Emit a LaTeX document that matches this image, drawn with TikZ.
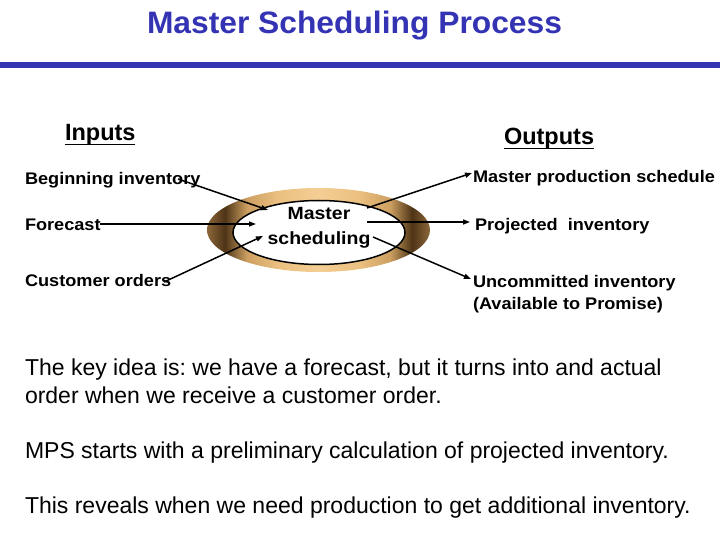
\documentclass[tikz,border=0pt]{standalone}
\usepackage{fontspec}
\setmainfont{Liberation Sans}
\newfontfamily\tfont[FakeStretch=1.025]{Liberation Sans}
\newfontfamily\lfont[FakeStretch=1.08]{Liberation Sans}
\newfontfamily\mfont[FakeStretch=1.1]{Liberation Sans}
\usetikzlibrary{arrows.meta}
\frenchspacing
\definecolor{titleblue}{RGB}{51,51,180}
\definecolor{rbA}{RGB}{140,104,58}
\definecolor{rbB}{RGB}{78,52,22}
\definecolor{rbC}{RGB}{205,160,98}
\definecolor{rbD}{RGB}{235,192,128}
\definecolor{rbE}{RGB}{244,206,148}
\pgfdeclarehorizontalshading{ringshade}{100bp}{color(0bp)=(rbA); color(25bp)=(rbA); color(29bp)=(rbB); color(34bp)=(rbC); color(41bp)=(rbD); color(50bp)=(rbE); color(59bp)=(rbD); color(66bp)=(rbC); color(71bp)=(rbB); color(75bp)=(rbA); color(100bp)=(rbA)}
\tikzset{
  txt/.style={anchor=base west, inner sep=0pt, outer sep=0pt},
  lab/.style={txt, font=\lfont\bfseries\fontsize{16.8}{20}\selectfont},
  head/.style={txt, font=\bfseries\fontsize{23.5}{28}\selectfont},
  body/.style={txt, font=\frenchspacing\fontsize{23}{28}\selectfont},
  arr/.style={line width=1.5pt, -{Triangle[length=7pt,width=5pt]}},
  uline/.style={line width=1.6pt}
}
\begin{document}
\begin{tikzpicture}[x=1pt,y=-1pt]
\useasboundingbox (0,0) rectangle (720,540);
% title
\node[txt, font=\tfont\bfseries\fontsize{31}{37}\selectfont, text=titleblue] (title) at (147,34) {Master Scheduling Process};
\fill[titleblue] (0,62) rectangle (720,68);
% headings
\node[head] (inp) at (65,141) {Inputs};
\draw[uline] ([yshift=-3.5pt]inp.base west) -- ([yshift=-3.5pt]inp.base east);
\node[head] (outp) at (504,145) {Outputs};
\draw[uline] ([yshift=-3.5pt]outp.base west) -- ([yshift=-3.5pt]outp.base east);
% ring
\shade[shading=ringshade] (318.5,230) ellipse [x radius=111.5, y radius=42];
\filldraw[fill=white, draw=black, line width=1.5pt] (319,232.5) ellipse [x radius=86, y radius=32];
\node[txt, anchor=base, font=\mfont\bfseries\fontsize{17.7}{21}\selectfont] (ms1) at (319,220) {Master};
\node[txt, anchor=base, font=\mfont\bfseries\fontsize{17.7}{21}\selectfont] (ms2) at (319,244) {scheduling};
% input labels
\node[lab] (bi) at (25,185) {Beginning inventory};
\node[lab] (fc) at (25,230) {Forecast};
\node[lab] (co) at (25,286) {Customer orders};
% output labels
\node[lab] (mps) at (473,183) {Master production schedule};
\node[lab] (pi) at (475,230) {Projected\ \ inventory};
\node[lab] (uc1) at (473,287) {Uncommitted inventory};
\node[lab] (uc2) at (473,309) {(Available to Promise)};
% arrow ends
\coordinate (biS) at (178,179);
\coordinate (biE) at (268,210);
\coordinate (fcS) at (100,224);
\coordinate (fcE) at (256,224);
\coordinate (coS) at (164,282);
\coordinate (coE) at (263,236);
\coordinate (mpsS) at (367,208);
\coordinate (mpsE) at (472,173);
\coordinate (piS) at (367,222);
\coordinate (piE) at (470,222);
\coordinate (ucS) at (373,237);
\coordinate (ucE) at (471,279);
\draw[arr] (biS) -- (biE);
\draw[arr] (fcS) -- (fcE);
\draw[arr] (coS) -- (coE);
\draw[arr] (mpsS) -- (mpsE);
\draw[arr] (piS) -- (piE);
\draw[arr] (ucS) -- (ucE);
% body
\node[body] (b1) at (25,375) {The key idea is: we have a forecast, but it turns into and actual};
\node[body] (b2) at (25,403) {order when we receive a customer order.};
\node[body] (b3) at (25,458) {MPS starts with a preliminary calculation of projected inventory.};
\node[body] (b4) at (25,513) {This reveals when we need production to get additional inventory.};
\end{tikzpicture}
\end{document}
